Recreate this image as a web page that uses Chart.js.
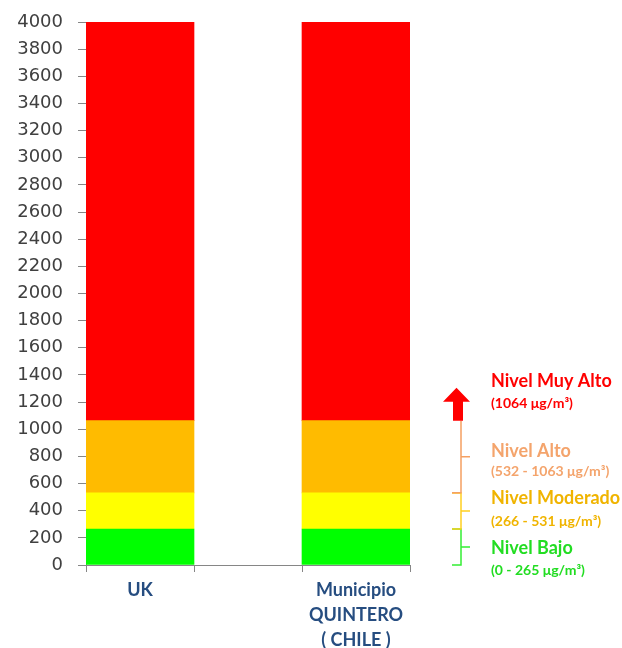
<!DOCTYPE html>
<html>
<head>
<meta charset="utf-8">
<script src="https://cdn.jsdelivr.net/npm/chart.js@4"></script>
<style>
  html, body { margin: 0; padding: 0; background: #fff; }
  #wrap { width: 622px; height: 648px; }
</style>
</head>
<body>
<div id="wrap"><canvas id="nivelesChart" width="622" height="648"></canvas></div>
<script>
// categories (middle one left empty as in the original sheet)
const categories = ['UK', '', ['Municipio', 'QUINTERO', '( CHILE )']];

// stacked ranges, µg/m3
const nivelBajo     = [265, null, 265];   // 0 - 265
const nivelModerado = [266, null, 266];   // 266 - 531
const nivelAlto     = [532, null, 532];   // 532 - 1063
const nivelMuyAlto  = [2937, null, 2937]; // 1064 - 4000

const yTicks = { min: 0, max: 4000, step: 200 };

// right side annotation: name, range text, colours, value limits
const niveles = [
  { name: 'Nivel Bajo',     range: '(0 - 265 μg/m³)',     color: '#22DD22', line: '#33EE33', from: 0,   to: 265 },
  { name: 'Nivel Moderado', range: '(266 - 531 μg/m³)',   color: '#F0B400', line: '#FFD020', from: 266, to: 531 },
  { name: 'Nivel Alto',     range: '(532 - 1063 μg/m³)',  color: '#F4A46C', line: '#F5A062', from: 532, to: 1063 },
  { name: 'Nivel Muy Alto', range: '(1064 μg/m³)',        color: '#FF0000', line: '#FF0000', from: 1064, to: null }
];

const axisGray = '#868686';

// draws the brackets, arrow and labels on the right
const nivelesPlugin = {
  id: 'nivelesLegend',
  afterDraw(chart) {
    const ctx = chart.ctx;
    const y = chart.scales.y;
    const xLine = 461, xHook = 452, xTip = 470, xText = 491;
    ctx.save();
    ctx.lineWidth = 1.5;

    niveles.forEach((n, i) => {
      if (n.to === null) return;
      const top = y.getPixelForValue(n.to);
      const bot = y.getPixelForValue(n.from);
      const mid = (top + bot) / 2;
      ctx.strokeStyle = n.line;
      ctx.beginPath();
      if (i < 2) { ctx.moveTo(xHook, top); ctx.lineTo(xLine, top); }
      else { ctx.moveTo(xLine, top); }
      ctx.lineTo(xLine, bot);
      ctx.lineTo(xHook, bot);
      ctx.moveTo(xLine, mid);
      ctx.lineTo(xTip, mid);
      ctx.stroke();
    });

    // red arrow above the orange bracket
    const base = y.getPixelForValue(1063);
    ctx.fillStyle = '#FF0000';
    ctx.beginPath();
    ctx.moveTo(xLine - 8, base);
    ctx.lineTo(xLine - 8, base - 19);
    ctx.lineTo(xLine - 18, base - 19);
    ctx.lineTo(xLine - 4.5, base - 33);
    ctx.lineTo(xLine + 9, base - 19);
    ctx.lineTo(xLine + 2, base - 19);
    ctx.lineTo(xLine + 2, base);
    ctx.closePath();
    ctx.fill();

    // labels
    const textY = [[548, 570], [498, 521], [451, 471], [381, 403]];
    ctx.textBaseline = 'middle';
    ctx.textAlign = 'left';
    niveles.forEach((n, i) => {
      ctx.fillStyle = n.color;
      ctx.font = 'bold 18px Lato';
      ctx.fillText(n.name, xText, textY[i][0]);
      ctx.font = 'bold 14px Lato';
      ctx.fillText(n.range, xText, textY[i][1]);
    });
    ctx.restore();
  }
};

const ctx = document.getElementById('nivelesChart').getContext('2d');
new Chart(ctx, {
  type: 'bar',
  data: {
    labels: categories,
    datasets: [
      { label: 'Bajo',     data: nivelBajo,     backgroundColor: '#00FF00' },
      { label: 'Moderado', data: nivelModerado, backgroundColor: '#FFFF00' },
      { label: 'Alto',     data: nivelAlto,     backgroundColor: '#FFBB00' },
      { label: 'Muy Alto', data: nivelMuyAlto,  backgroundColor: '#FF0000' }
    ]
  },
  options: {
    responsive: false,
    animation: false,
    datasets: { bar: { categoryPercentage: 1, barPercentage: 1, borderWidth: 0 } },
    layout: { padding: { top: 22, right: 212, left: 0, bottom: 0 } },
    plugins: { legend: { display: false }, tooltip: { enabled: false } },
    scales: {
      x: {
        stacked: true,
        grid: { drawOnChartArea: false, color: axisGray, tickLength: 7, offset: true },
        border: { color: axisGray, width: 1 },
        ticks: {
          color: '#264D80',
          font: { family: 'Lato', size: 18, weight: 'bold', lineHeight: 1.38 },
          padding: 6,
          maxRotation: 0,
          autoSkip: false
        },
        afterFit(scale) { scale.height = 83; }
      },
      y: {
        stacked: true,
        min: yTicks.min,
        max: yTicks.max,
        grid: { drawOnChartArea: false, color: axisGray, tickLength: 8 },
        border: { color: axisGray, width: 1 },
        ticks: {
          stepSize: yTicks.step,
          color: '#404040',
          font: { family: 'DejaVu Sans', size: 18 },
          padding: 15,
          callback: (v) => String(v)
        },
        // fixed width, and don't let the tick padding push the plot down
        afterFit(scale) {
          scale.width = 86;
          scale.paddingTop = 0;
          scale.paddingBottom = 0;
        }
      }
    }
  },
  plugins: [nivelesPlugin]
});
</script>
</body>
</html>
